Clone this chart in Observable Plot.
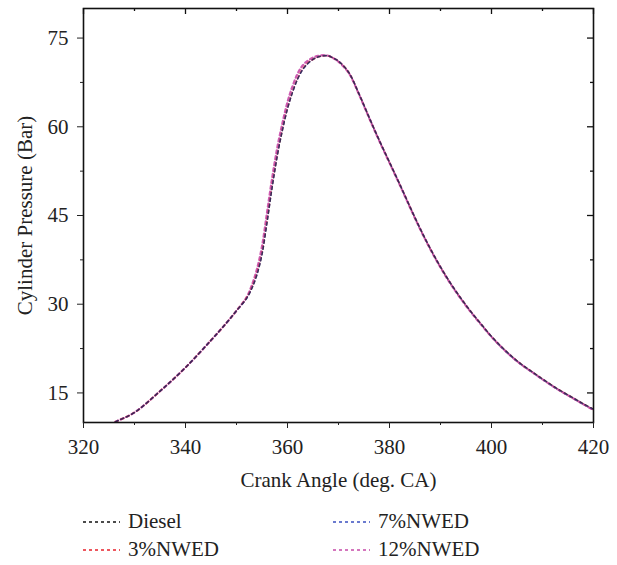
<!DOCTYPE html>
<html>
<head>
<meta charset="utf-8">
<script src="https://cdn.jsdelivr.net/npm/d3@7"></script>
<script src="https://cdn.jsdelivr.net/npm/@observablehq/plot@0.6"></script>
<style>
  body { margin: 0; background: #fff; font-family: "Liberation Serif", "DejaVu Serif", serif; color: #222; }
  #legend { position: relative; width: 617px; height: 70px; }
  .item { position: absolute; display: flex; align-items: center; font-size: 21px; line-height: 1; }
  .item svg { margin-right: 8px; }
</style>
</head>
<body>
<div id="chart"></div>
<div id="legend"></div>
<script>
// ---- data ----
const angle = [320, 323, 326, 330, 335, 340, 345, 348, 350, 352, 353, 354, 355, 356, 357, 358, 359, 360, 361, 362, 363, 364, 365, 366, 367, 368, 369, 370, 372, 374, 376, 378, 380, 382, 384, 386, 388, 390, 392, 394, 396, 398, 400, 402, 404, 406, 408, 410, 413, 416, 418, 420];
const diesel = [7.3, 8.6, 10.0, 11.7, 15.3, 19.3, 23.9, 26.8, 28.9, 31.0, 32.6, 34.9, 38.3, 43.8, 49.7, 55.0, 59.3, 63.0, 65.8, 68.1, 69.7, 70.7, 71.4, 71.8, 72.0, 72.0, 71.6, 71.1, 69.2, 65.6, 61.6, 57.7, 54.0, 50.3, 46.5, 42.8, 39.4, 36.3, 33.5, 31.0, 28.7, 26.6, 24.6, 22.8, 21.2, 19.8, 18.6, 17.4, 15.7, 14.2, 13.2, 12.3];
const nwed3 = [7.3, 8.6, 10.0, 11.7, 15.3, 19.3, 23.9, 26.8, 28.9, 31.1, 32.8, 35.2, 38.7, 44.2, 50.1, 55.3, 59.6, 63.2, 66.0, 68.2, 69.8, 70.8, 71.4, 71.8, 72.0, 72.0, 71.6, 71.1, 69.2, 65.6, 61.6, 57.7, 54.0, 50.3, 46.5, 42.8, 39.4, 36.3, 33.5, 31.0, 28.7, 26.6, 24.5, 22.7, 21.1, 19.7, 18.5, 17.3, 15.6, 14.1, 13.1, 12.2];
const nwed7 = [7.3, 8.6, 10.0, 11.7, 15.3, 19.3, 23.9, 26.8, 28.9, 31.0, 32.7, 35.0, 38.5, 44.0, 49.9, 55.2, 59.5, 63.1, 65.9, 68.1, 69.7, 70.7, 71.4, 71.8, 72.0, 72.0, 71.6, 71.1, 69.2, 65.6, 61.6, 57.7, 54.0, 50.3, 46.5, 42.8, 39.4, 36.3, 33.5, 31.0, 28.7, 26.6, 24.5, 22.7, 21.1, 19.7, 18.5, 17.3, 15.6, 14.1, 13.1, 12.2];
const nwed12 = [7.3, 8.6, 10.0, 11.7, 15.3, 19.3, 23.9, 26.8, 28.9, 31.2, 33.2, 35.9, 39.8, 45.6, 51.4, 56.5, 60.6, 64.2, 66.9, 69.0, 70.4, 71.2, 71.7, 72.0, 72.1, 72.0, 71.6, 71.0, 69.1, 65.5, 61.5, 57.6, 53.9, 50.2, 46.4, 42.7, 39.3, 36.2, 33.4, 30.9, 28.6, 26.5, 24.5, 22.7, 21.1, 19.7, 18.5, 17.3, 15.6, 14.1, 13.1, 12.1];

const seriesNames = ["Diesel", "3%NWED", "7%NWED", "12%NWED"];
const seriesColors = ["#111111", "#e8202a", "#3a4fc0", "#c64aa8"];
const xMajor = [320, 340, 360, 380, 400, 420];
const xMinor = [330, 350, 370, 390, 410];
const yMajor = [15, 30, 45, 60, 75];
const yMinor = [22.5, 37.5, 52.5, 67.5];

const seriesValues = [diesel, nwed3, nwed7, nwed12];
const series = seriesNames.map((name, i) => ({
  name, color: seriesColors[i],
  rows: angle.map((a, j) => ({angle: a, p: seriesValues[i][j]}))
}));

const W = 617, H = 495, mL = 83, mR = 24, mT = 8, mB = 73;
const plotW = W - mL - mR, plotH = H - mT - mB;

const lineStyle = [
  {w: 1.3, o: 0.55},   // Diesel
  {w: 1.8, o: 0.8},    // 3%
  {w: 1.6, o: 0.75},   // 7%
  {w: 2.2, o: 0.9}     // 12%
];
const order = [3, 1, 2, 0];

const chart = Plot.plot({
  width: W, height: H,
  marginLeft: mL, marginRight: mR, marginTop: mT, marginBottom: mB,
  style: {fontFamily: "'Liberation Serif', 'DejaVu Serif', serif", fontSize: "21px", color: "#222", background: "#fff"},
  x: {domain: [320, 420]},
  y: {domain: [10, 80]},
  marks: [
    ...order.map(i => Plot.line(series[i].rows, {
      x: "angle", y: "p", stroke: series[i].color, strokeWidth: lineStyle[i].w,
      strokeOpacity: lineStyle[i].o, strokeDasharray: "3,3",
      curve: "catmull-rom", clip: true
    })),
    Plot.frame({stroke: "#111", strokeWidth: 1.6}),
    Plot.axisX(xMajor, {anchor: "bottom", tickSize: 6, tickPadding: 11, fontSize: 21,
      label: "Crank Angle (deg. CA)", labelAnchor: "center", labelArrow: "none", labelOffset: 64}),
    Plot.axisX(xMinor, {anchor: "bottom", tickSize: 3, tickFormat: () => "", label: null}),
    Plot.axisY(yMajor, {anchor: "left", tickSize: 6, tickPadding: 9, fontSize: 21,
      label: "Cylinder Pressure (Bar)", labelAnchor: "center", labelArrow: "none", labelOffset: 66}),
    Plot.axisY(yMinor, {anchor: "left", tickSize: 3, tickFormat: () => "", label: null}),
    // mirrored inward ticks on top and right
    Plot.tickX(xMajor, {x: d => d, insetBottom: plotH - 6, stroke: "#111", strokeWidth: 1.3}),
    Plot.tickX(xMinor, {x: d => d, insetBottom: plotH - 3, stroke: "#111", strokeWidth: 1.3}),
    Plot.tickY(yMajor, {y: d => d, insetLeft: plotW - 6, stroke: "#111", strokeWidth: 1.3}),
    Plot.tickY(yMinor, {y: d => d, insetLeft: plotW - 3, stroke: "#111", strokeWidth: 1.3})
  ]
});
document.getElementById("chart").appendChild(chart);

// legend (below the SVG)
const legend = document.getElementById("legend");
const pos = [[83, 27], [83, 55], [333, 27], [333, 55]];
[0, 1, 2, 3].forEach((i, k) => {
  const item = document.createElement("div");
  item.className = "item";
  item.style.left = pos[k][0] + "px";
  item.style.top = (pos[k][1] - 11) + "px";
  item.innerHTML = `<svg width="37" height="6"><line x1="0" y1="3" x2="37" y2="3" stroke="${series[i].color}" stroke-width="1.4" stroke-dasharray="3,3"/></svg><span>${series[i].name}</span>`;
  legend.appendChild(item);
});
</script>
</body>
</html>
